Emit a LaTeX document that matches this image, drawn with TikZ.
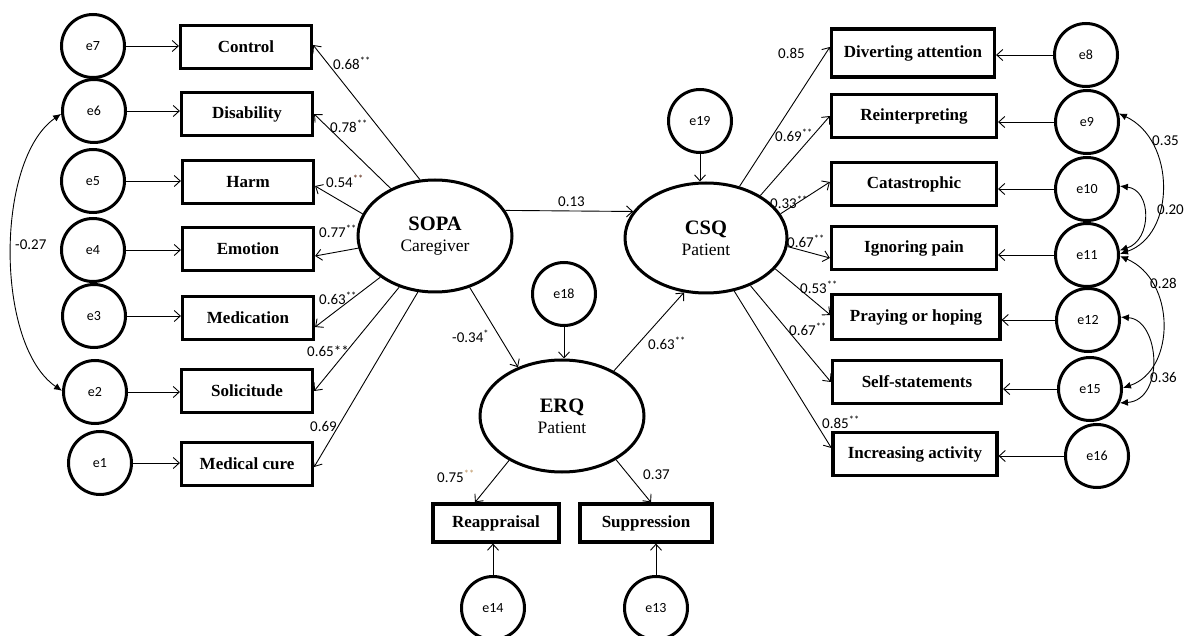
\documentclass[tikz,border=0pt]{standalone}
\usepackage{fontspec}
\setmainfont{Liberation Serif}
\newfontfamily\calibri{Carlito}
\usetikzlibrary{shapes.geometric,arrows.meta,calc}
\definecolor{starA}{RGB}{90,40,20}
\definecolor{starB}{RGB}{190,150,100}
\begin{document}
\begin{tikzpicture}[x=1pt,y=-1pt,
 err/.style={draw,circle,line width=3pt,minimum size=63pt,inner sep=0,font=\calibri\fontsize{14}{16}\selectfont},
 obs/.style={draw,rectangle,line width=3.2pt,minimum width=131pt,minimum height=43pt,inner sep=0,font=\bfseries\fontsize{17}{19}\selectfont},
 lat/.style={draw,ellipse,line width=3pt,inner sep=0,align=center,font=\fontsize{17.5}{21}\selectfont},
 pth/.style={-{Straight Barb[length=6pt,width=11pt]},line width=0.9pt},
 cov/.style={{Latex[length=8pt,width=7pt]}-{Latex[length=8pt,width=7pt]},line width=0.9pt},
 lab/.style={font=\calibri\fontsize{15}{17}\selectfont,inner sep=0,anchor=west},
]
\useasboundingbox (0,0) rectangle (1184,636);
\fill[white] (0,0) rectangle (1184,636);
\clip (0,0) rectangle (1184,636);

% latent variables
\node[lat,minimum width=154pt,minimum height=112pt] (sopa) at (435,236)
  {{\bfseries\fontsize{20.5}{21}\selectfont SOPA}\\Caregiver};
\node[lat,minimum width=162pt,minimum height=110pt] (csq) at (706,238)
  {{\bfseries\fontsize{20.5}{21}\selectfont CSQ}\\Patient};
\node[lat,minimum width=164pt,minimum height=112pt] (erq) at (562,416)
  {{\bfseries\fontsize{20.5}{21}\selectfont ERQ}\\Patient};

% left observed
\node[obs] (ctrl) at (246,47) {Control};
\node[obs] (disab) at (247,114) {Disability};
\node[obs] (harm) at (248,182) {Harm};
\node[obs] (emot) at (248,249) {Emotion};
\node[obs] (medic) at (248,318) {Medication};
\node[obs] (solic) at (247,391) {Solicitude};
\node[obs] (mcure) at (247,464) {Medical cure};

% left errors
\node[err] (e7) at (93,46) {e7};
\node[err] (e6) at (94,111) {e6};
\node[err] (e5) at (93,181) {e5};
\node[err] (e4) at (93,250) {e4};
\node[err] (e3) at (94,316) {e3};
\node[err] (e2) at (95,392) {e2};
\node[err] (e1) at (100,463) {e1};

% right observed
\node[obs,minimum width=163pt,minimum height=48pt] (div) at (913,53) {Diverting attention};
\node[obs,minimum width=165pt] (reint) at (914,116) {Reinterpreting};
\node[obs,minimum width=165pt] (cat) at (914,184) {Catastrophic};
\node[obs,minimum width=165pt] (ign) at (914,248) {Ignoring pain};
\node[obs,minimum width=168pt,minimum height=45pt] (pray) at (916,317) {Praying or hoping};
\node[obs,minimum width=169pt] (self) at (917,382) {Self-statements};
\node[obs,minimum width=164pt] (incr) at (915,454) {Increasing activity};

% right errors
\node[err] (e8) at (1086,55) {e8};
\node[err] (e9) at (1087,122) {e9};
\node[err] (e10) at (1087,189) {e10};
\node[err] (e11) at (1087,255) {e11};
\node[err] (e12) at (1088,320) {e12};
\node[err] (e15) at (1090,389) {e15};
\node[err] (e16) at (1097,456) {e16};

% center
\node[err] (e19) at (700,121) {e19};
\node[err] (e18) at (564,294) {e18};
\node[obs,minimum width=126pt,minimum height=38pt] (reap) at (496,523) {Reappraisal};
\node[obs,minimum width=132pt,minimum height=38pt] (supp) at (646,523) {Suppression};
\node[err] (e14) at (493,608) {e14};
\node[err] (e13) at (656,608) {e13};

% error -> indicator (left)
\foreach \e/\b in {e7/ctrl,e6/disab,e5/harm,e4/emot,e3/medic,e2/solic,e1/mcure}
  \draw[pth] (\e.east) -- (\e.east -| \b.west);
% error -> indicator (right)
\foreach \e/\b in {e8/div,e9/reint,e10/cat,e11/ign,e12/pray,e15/self,e16/incr}
  \draw[pth] (\e.west) -- (\e.west -| \b.east);

% SOPA loadings
\draw[pth] (sopa.105) -- ([yshift=2pt]ctrl.east);
\draw[pth] (sopa.133) -- (disab.east);
\draw[pth] (sopa.163) -- ([yshift=-4pt]harm.east);
\draw[pth] (sopa.-171) -- ([yshift=-7pt]emot.east);
\draw[pth] (sopa.-143) -- ([yshift=-9pt]medic.east);
\draw[pth] (sopa.-125) -- (solic.east);
\draw[pth] (sopa.-107) -- ([yshift=-3pt]mcure.east);

% CSQ loadings
\draw[pth] (csq.57) -- ([yshift=6pt]div.west);
\draw[pth] (csq.38) -- (reint.west);
\draw[pth] (csq.18) -- ([yshift=2pt]cat.west);
\draw[pth] (csq.-6) -- ([yshift=-10pt]ign.west);
\draw[pth] (csq.-24) -- ([yshift=2pt]pray.west);
\draw[pth] (csq.-47) -- (self.west);
\draw[pth] (csq.-62) -- ([yshift=6pt]incr.west);

% structural paths
\draw[pth] (sopa.20) -- (csq.160);
\draw[pth] (sopa.-56) -- (erq.132);
\draw[pth] (erq.41) -- (csq.-112);
\draw[pth] (e18.south) -- (e18.south |- erq.north);
\draw[pth] (e19.south) -- (e19.south |- csq.north);
\draw[pth] (erq.-140) -- ([xshift=-21pt]reap.north);
\draw[pth] (erq.-39) -- ([xshift=5pt]supp.north);
\draw[pth] (e14.north) -- (e14.north |- reap.south);
\draw[pth] (e13.north) -- (e13.north |- supp.south);

% covariances
\draw[cov] (e6.185) .. controls (-5,160) and (-5,345) .. (e2.178);
\draw[cov] (e9.15) .. controls (1176,140) and (1176,235) .. (e11.2);
\draw[cov] (e10.5) .. controls (1152,190) and (1152,240) .. (e11.8);
\draw[cov] (e11.-2) .. controls (1176,280) and (1176,370) .. (e15.2);
\draw[cov] (e12.5) .. controls (1160,320) and (1165,400) .. (e15.-25);

% labels
\node[lab] (l1) at (333,63) {0.68\textsuperscript{**}};
\node[lab] (l2) at (330,126) {0.78\textsuperscript{**}};
\node[lab] (l3) at (326,181) {0.54\textsuperscript{\color{starA}**}};
\node[lab] (l4) at (319,231) {0.77\textsuperscript{**}};
\node[lab] (l5) at (319,298) {0.63\textsuperscript{**}};
\node[lab] (l6) at (307,351) {0.65**};
\node[lab] (l7) at (310,426) {0.69};
\node[lab] (r1) at (778,53) {0.85};
\node[lab] (r2) at (775,135) {0.69\textsuperscript{**}};
\node[lab] (r3) at (770,202) {0.33\textsuperscript{**}};
\node[lab] (r4) at (787,241) {0.67\textsuperscript{**}};
\node[lab] (r5) at (800,287) {0.53\textsuperscript{**}};
\node[lab] (r6) at (789,329) {0.67\textsuperscript{**}};
\node[lab] (r7) at (822,422) {0.85\textsuperscript{**}};
\node[lab] (c1) at (558,202) {0.13};
\node[lab] (c2) at (452,336) {-0.34\textsuperscript{*}};
\node[lab] (c3) at (648,343) {0.63\textsuperscript{**}};
\node[lab] (c4) at (437,476) {0.75\textsuperscript{\color{starB}**}};
\node[lab] (c5) at (643,475) {0.37};
\node[lab] (k1) at (15,245) {-0.27};
\node[lab] (k2) at (1152,141) {0.35};
\node[lab] (k3) at (1157,210) {0.20};
\node[lab] (k4) at (1150,283) {0.28};
\node[lab] (k5) at (1150,377) {0.36};
\end{tikzpicture}
\end{document}
